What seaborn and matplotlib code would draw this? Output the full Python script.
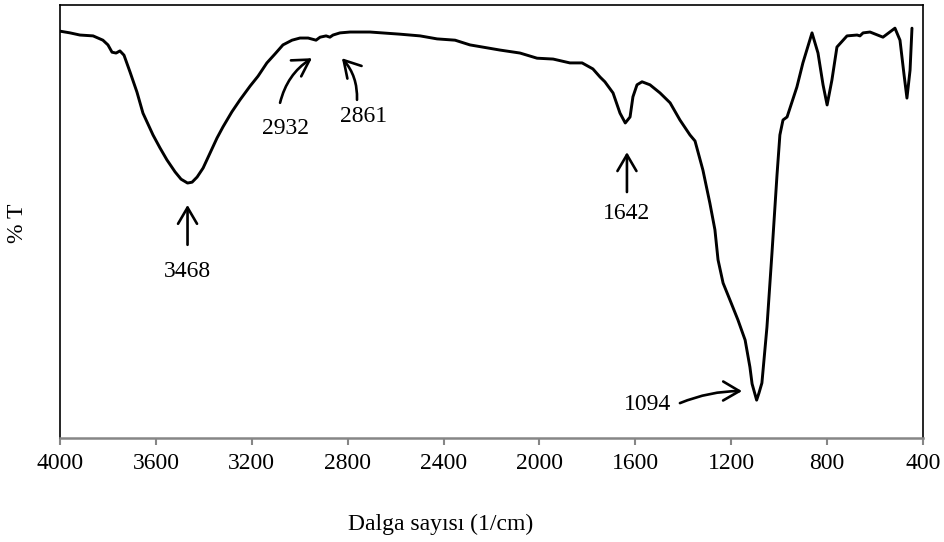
import matplotlib
matplotlib.use("Agg")
import matplotlib.pyplot as plt
import seaborn as sns
import pandas as pd

# ---- data ----
wavenumber = [4000, 3958, 3917, 3862, 3821, 3800, 3783, 3766, 3750, 3733,
              3708, 3679, 3654, 3612, 3583, 3554, 3520, 3495, 3468, 3449,
              3428, 3403, 3374, 3345, 3320, 3283, 3249, 3207, 3174, 3137,
              3103, 3070, 3032, 2999, 2965, 2932, 2915, 2890, 2874, 2861,
              2832, 2790, 2707, 2582, 2498, 2427, 2352, 2290, 2165, 2081,
              2010, 1943, 1873, 1822, 1777, 1747, 1727, 1693, 1664, 1642,
              1622, 1610, 1593, 1572, 1539, 1497, 1455, 1414, 1372, 1351,
              1318, 1289, 1268, 1255, 1234, 1205, 1172, 1142, 1122, 1113,
              1094, 1084, 1072, 1051, 1030, 1009, 997, 984, 967, 926,
              901, 863, 838, 817, 800, 780, 759, 717, 675, 663,
              650, 621, 567, 517, 496, 479, 467, 454, 446]
transmittance = [93.9, 93.5, 93.0, 92.8, 91.8, 90.7, 89.0, 88.8, 89.3, 88.3,
                 84.4, 79.7, 74.8, 69.7, 66.7, 63.9, 61.1, 59.4, 58.5, 58.7,
                 59.9, 62.0, 65.5, 69.0, 71.6, 75.1, 77.9, 81.1, 83.4, 86.5,
                 88.6, 90.7, 91.8, 92.3, 92.3, 91.8, 92.5, 92.8, 92.5, 93.0,
                 93.5, 93.7, 93.7, 93.2, 92.8, 92.1, 91.8, 90.7, 89.5, 88.8,
                 87.6, 87.4, 86.5, 86.5, 85.1, 83.2, 82.1, 79.5, 74.8, 72.5,
                 73.9, 78.6, 81.4, 82.1, 81.4, 79.5, 77.2, 73.2, 69.7, 68.3,
                 61.5, 53.8, 47.6, 40.6, 35.2, 31.2, 26.6, 21.9, 15.6, 11.7,
                 7.9, 9.6, 11.9, 24.9, 42.2, 60.4, 69.7, 73.2, 73.9, 80.9,
                 86.5, 93.5, 88.8, 81.4, 76.7, 82.5, 90.2, 92.8, 93.0, 92.8,
                 93.5, 93.7, 92.5, 94.6, 91.8, 83.7, 78.3, 84.8, 94.6]
peak_labels = ["3468", "2932", "2861", "1642", "1094"]
x_ticks = [4000, 3600, 3200, 2800, 2400, 2000, 1600, 1200, 800, 400]

df = pd.DataFrame({"wn": wavenumber, "T": transmittance})

sns.set_style("white")
plt.rcParams["font.family"] = ["Liberation Serif", "DejaVu Serif"]
plt.rcParams["text.color"] = "black"
plt.rcParams["axes.labelcolor"] = "black"

fig = plt.figure(figsize=(9.44, 5.42), dpi=100)
ax = fig.add_axes([60/944, 1-438/542, 863/944, 433/542])

sns.lineplot(data=df, x="wn", y="T", sort=False, estimator=None,
             color="black", lw=2.1, ax=ax)
ax.lines[0].set_solid_joinstyle("round")
ax.lines[0].set_solid_capstyle("round")

ax.set_xlim(4000, 400)
ax.set_ylim(-0.93, 100)
ax.set_xticks(x_ticks)
ax.set_xticklabels([str(t) for t in x_ticks])
ax.set_yticks([])
ax.tick_params(axis="x", direction="out", length=5, width=1.5,
               colors="#868686", labelcolor="black", labelsize=17, pad=6,
               bottom=True)

for s in ["left", "top", "right"]:
    ax.spines[s].set_color("black")
    ax.spines[s].set_linewidth(1.2)
ax.spines["bottom"].set_color("#868686")
ax.spines["bottom"].set_linewidth(1.8)

ax.set_xlabel("Dalga sayısı (1/cm)", fontsize=17, color="black")
ax.xaxis.label.set_va("center")
ax.xaxis.set_label_coords(0.4415, -0.1986)
ax.set_ylabel("% T", fontsize=17, color="black")
ax.yaxis.label.set_va("center")
ax.yaxis.set_label_coords(-0.0487, 0.4965)

arrow_kw = dict(arrowstyle="->,head_length=0.65,head_width=0.38",
                color="black", lw=1.9, mutation_scale=18,
                shrinkA=0, shrinkB=0)

# (label, tip, tail, text position, arc)
annots = [
    (peak_labels[0], (3468, 53.4), (3468, 44.1), (3470, 37.8), 0.0),
    (peak_labels[1], (2949, 87.6), (3082, 77.2), (3061, 71.3), -0.2),
    (peak_labels[2], (2824, 87.6), (2761, 77.9), (2732, 73.9), 0.2),
    (peak_labels[3], (1635, 65.7), (1635, 56.4), (1635, 51.5), 0.0),
    (peak_labels[4], (1155, 10.0), (1414, 7.2), (1547, 6.8), -0.1),
]
for lab, tip, tail, tpos, rad in annots:
    ax.annotate("", xy=tip, xytext=tail,
                arrowprops=dict(connectionstyle=f"arc3,rad={rad}", **arrow_kw))
    ax.text(tpos[0], tpos[1], lab, fontsize=17, ha="center", va="center",
            color="black")

fig.savefig("out.png", dpi=100)
